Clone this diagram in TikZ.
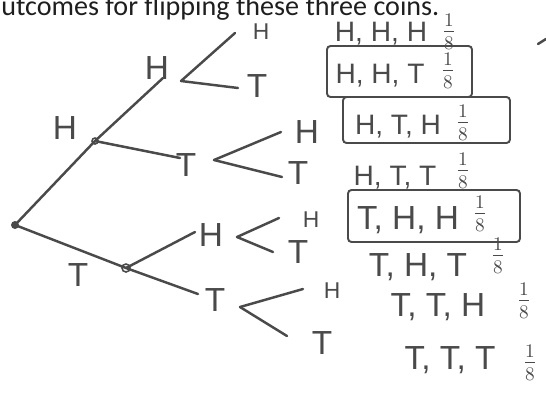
\documentclass[tikz,border=0pt]{standalone}
\usepackage{fontspec}
\setmainfont{Liberation Sans}
\newfontfamily\titlefont{Carlito}
\usetikzlibrary{fit}
\definecolor{inkgray}{HTML}{4A4A4A}
\definecolor{titlegray}{HTML}{1E1E1E}
\newcommand{\eighth}{$\frac{1}{8}$}

\begin{document}
\begin{tikzpicture}[
    x=0.02cm, y=-0.02cm,
    pen/.style={draw=inkgray, line width=1.4pt, line cap=round},
    letter/.style={text=inkgray, inner sep=0pt, font=\fontsize{19}{21}\selectfont},
    smallletter/.style={letter, font=\fontsize{13}{15}\selectfont},
    outcome/.style={text=inkgray, inner sep=0pt, font=\fontsize{16}{18}\selectfont},
    bigoutcome/.style={outcome, font=\fontsize{19}{21}\selectfont},
    prob/.style={text=inkgray, inner sep=0pt, font=\fontsize{16}{18}\selectfont},
    outbox/.style={draw=inkgray, line width=1.1pt, rounded corners=2pt, inner sep=0pt}
]
\useasboundingbox (0,0) rectangle (546,392);
\clip (0,0) rectangle (546,392);

\node[anchor=base west, text=titlegray, inner sep=0pt, font=\titlefont\fontsize{16}{18}\selectfont] (title) at (1,15) {utcomes for flipping these three coins.};

% junctions of the tree
\coordinate (root) at (15,225);
\coordinate (h) at (95,141);
\coordinate (t) at (126,268);
\coordinate (hh) at (181,81);
\coordinate (ht) at (214,160);
\coordinate (th) at (237,237);
\coordinate (tt) at (240,307);

% free ends of the branches
\coordinate (hEnd) at (163,78);
\coordinate (htEnd) at (180,158);
\coordinate (thEnd) at (195,232);
\coordinate (ttEnd) at (198,294);
\coordinate (hhhEnd) at (235,33);
\coordinate (hhtEnd) at (238,88);
\coordinate (hthEnd) at (281,132);
\coordinate (httEnd) at (282,177);
\coordinate (thhEnd) at (279,218);
\coordinate (thtEnd) at (273,252);
\coordinate (tthEnd) at (303,289);
\coordinate (tttEnd) at (287,336);

\node[letter] (lblH) at (65,128) {H};
\node[letter] (lblT) at (78,275) {T};
\node[letter] (lblHH) at (157,68) {H};
\node[letter] (lblHT) at (186,165) {T};
\node[letter] (lblTH) at (211,235) {H};
\node[letter] (lblTT) at (215,300) {T};
\node[smallletter] (lblHHH) at (261,32) {H};
\node[letter] (lblHHT) at (257,86) {T};
\node[letter] (lblHTH) at (307,132) {H};
\node[letter] (lblHTT) at (298,173) {T};
\node[smallletter] (lblTHH) at (311,220) {H};
\node[letter] (lblTHT) at (298,252) {T};
\node[smallletter] (lblTTH) at (332,291) {H};
\node[letter] (lblTTT) at (322,343) {T};

\fill[inkgray] (root) circle (4);
\draw[pen, line width=0.9pt] (h) circle (3);
\draw[pen, line width=0.9pt] (t) circle (4);

\draw[pen] (root) -- (h);
\draw[pen] (h) -- (hEnd);
\draw[pen] (h) -- (htEnd);
\draw[pen] (root) -- (t);
\draw[pen] (t) -- (thEnd);
\draw[pen] (t) -- (ttEnd);
\draw[pen] (hh) -- (hhhEnd);
\draw[pen] (hh) -- (hhtEnd);
\draw[pen] (ht) -- (hthEnd);
\draw[pen] (ht) -- (httEnd);
\draw[pen] (th) -- (thhEnd);
\draw[pen] (th) -- (thtEnd);
\draw[pen] (tt) -- (tthEnd);
\draw[pen] (tt) -- (tttEnd);

% list of outcomes
\node[outcome] (hhh) at (381,34) {H, H, H};
\node[prob] (phhh) at (449,32) {\eighth};
\node[outcome] (hht) at (380,76) {H, H, T};
\node[prob] (phht) at (448,71) {\eighth};
\node[outcome] (hth) at (398,127) {H, T, H};
\node[prob] (phth) at (463,123) {\eighth};
\node[outcome] (htt) at (395,178) {H, T, T};
\node[prob] (phtt) at (463,171) {\eighth};
\node[bigoutcome] (thh) at (408,220) {T, H, H};
\node[prob] (pthh) at (480,214) {\eighth};
\node[bigoutcome] (tht) at (418,267) {T, H, T};
\node[prob] (ptht) at (498,256) {\eighth};
\node[bigoutcome] (tth) at (438,307) {T,\ T,\ H};
\node[prob] (ptth) at (524,301) {\eighth};
\node[bigoutcome] (ttt) at (450,360) {T,\ T,\ T};
\node[prob] (pttt) at (530,363) {\eighth};

\node[outbox, fit={(327,46) (472,97)}] (boxHHT) {};
\node[outbox, fit={(343,97) (510,143)}] (boxHTH) {};
\node[outbox, fit={(348,190) (520,242)}] (boxTHH) {};

\coordinate (markA) at (538,44);
\coordinate (markB) at (546,39);
\draw[pen] (markA) -- (markB);
\end{tikzpicture}
\end{document}
